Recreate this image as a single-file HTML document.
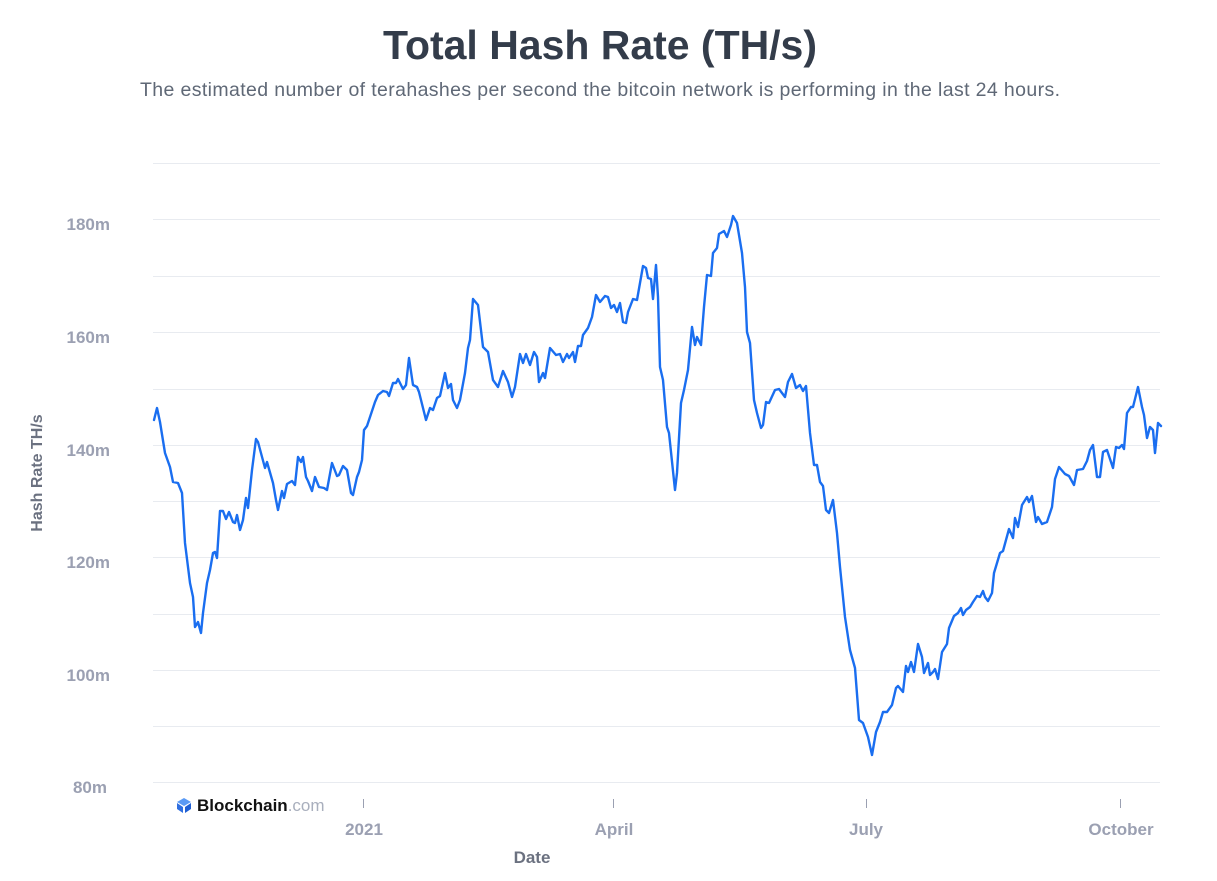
<!DOCTYPE html>
<html><head><meta charset="utf-8"><style>
body{margin:0;background:#fff;width:1217px;height:881px;overflow:hidden;font-family:"Liberation Sans",sans-serif}
</style></head><body>
<svg width="1217" height="881" xmlns="http://www.w3.org/2000/svg" style="position:absolute;left:0;top:0">
<text x="600" y="59" text-anchor="middle" font-size="41" font-weight="bold" fill="#333c4a" textLength="434" font-family="Liberation Sans, sans-serif">Total Hash Rate (TH/s)</text>
<text x="600" y="96" text-anchor="middle" font-size="19.5" fill="#5f6876" textLength="920" font-family="Liberation Sans, sans-serif">The estimated number of terahashes per second the bitcoin network is performing in the last 24 hours.</text>
<g stroke="#e8ebf0" stroke-width="1">
<line x1="153" x2="1160" y1="163.5" y2="163.5"/><line x1="153" x2="1160" y1="219.5" y2="219.5"/>
<line x1="153" x2="1160" y1="276.5" y2="276.5"/><line x1="153" x2="1160" y1="332.5" y2="332.5"/>
<line x1="153" x2="1160" y1="389.5" y2="389.5"/><line x1="153" x2="1160" y1="445.5" y2="445.5"/>
<line x1="153" x2="1160" y1="501.5" y2="501.5"/><line x1="153" x2="1160" y1="557.5" y2="557.5"/>
<line x1="153" x2="1160" y1="614.5" y2="614.5"/><line x1="153" x2="1160" y1="670.5" y2="670.5"/>
<line x1="153" x2="1160" y1="726.5" y2="726.5"/><line x1="153" x2="1160" y1="782.5" y2="782.5"/>
</g>
<g font-size="17" font-weight="bold" fill="#9ba0b2" text-anchor="end" font-family="Liberation Sans, sans-serif">
<text x="110" y="230">180m</text><text x="110" y="343">160m</text><text x="110" y="456">140m</text>
<text x="110" y="568">120m</text><text x="110" y="681">100m</text><text x="107" y="793">80m</text>
</g>
<text transform="translate(42,473) rotate(-90)" text-anchor="middle" font-size="16" font-weight="bold" fill="#6b7180" font-family="Liberation Sans, sans-serif">Hash Rate TH/s</text>
<g stroke="#9ba0b2" stroke-width="1"><line x1="363.5" x2="363.5" y1="799" y2="808"/><line x1="613.5" x2="613.5" y1="799" y2="808"/><line x1="866.5" x2="866.5" y1="799" y2="808"/><line x1="1120.5" x2="1120.5" y1="799" y2="808"/></g>
<g font-size="17" font-weight="bold" fill="#9ba0b2" text-anchor="middle" font-family="Liberation Sans, sans-serif">
<text x="364" y="835">2021</text><text x="614" y="835">April</text><text x="866" y="835">July</text><text x="1121" y="835">October</text>
</g>
<text x="532" y="863" text-anchor="middle" font-size="17" font-weight="bold" fill="#6b7180" font-family="Liberation Sans, sans-serif">Date</text>
<polygon points="184,798 191,802 184,806 177,802" fill="#5a9af5"/>
<polygon points="177,803 183,807 183,813 177,809" fill="#2f6fe0"/>
<polygon points="185,807 191,803 191,809 185,813" fill="#1f5fd4"/>
<text x="197" y="811" font-size="17" font-weight="bold" fill="#121212" font-family="Liberation Sans, sans-serif">Blockchain<tspan fill="#a9afbd" font-weight="normal">.com</tspan></text>
<polyline fill="none" stroke="#1a6ef0" stroke-width="2.4" stroke-linejoin="round" stroke-linecap="round" points="
154,420 157,408 160,422 165,453 170,467 173,482 178,483 182,493 185,543 190,583 193,597 195,627 198,622 201,633 203,613 207,583 210,570 213,553 215,552 217,558 220,511 223,511 226,519 229,512 233,522 235,523 237,515 240,530 243,520 246,498 248,508 252,470 256,439 258,442 265,468 267,462 273,483 276,500 278,510 282,491 284,498 287,484 292,481 295,485 298,457 301,462 303,457 306,477 308,481 312,491 315,477 319,487 324,488 327,490 332,463 337,476 339,475 343,466 347,470 351,493 353,495 357,477 359,472 362,460 364,430 367,426 370,417 375,402 378,395 383,391 387,392 389,396 393,383 396,383 398,379 403,389 406,385 409,358 413,385 417,387 419,392 426,420 430,408 433,410 437,398 440,396 445,373 448,388 451,384 453,400 457,408 460,400 465,373 468,348 470,340 473,299 478,305 483,347 488,352 493,380 498,387 503,371 508,382 512,397 515,387 520,354 523,363 526,354 530,365 534,352 537,357 539,382 543,373 545,378 550,348 556,355 560,354 563,362 567,354 569,358 573,352 575,362 578,346 581,346 583,335 588,328 592,317 596,295 600,302 605,296 608,297 611,308 614,305 617,312 620,303 623,322 626,323 628,312 633,299 637,300 640,283 643,266 646,268 648,278 651,279 653,299 656,265 658,297 660,367 663,380 667,427 669,433 675,490 677,473 681,403 684,390 688,370 692,327 695,345 697,337 701,345 704,307 707,275 711,276 713,253 717,248 719,234 724,231 727,237 731,225 733,216 737,223 742,253 745,287 747,332 750,343 754,400 757,413 761,428 763,425 766,402 769,403 775,390 779,389 785,397 788,382 792,374 796,388 800,385 803,391 806,386 810,433 814,465 817,465 820,482 823,486 826,510 829,513 833,500 837,533 840,567 845,617 850,650 855,668 859,720 863,723 868,737 872,755 876,732 880,722 883,712 887,712 892,705 896,688 898,686 903,692 906,666 908,672 911,662 914,672 918,644 922,657 924,673 928,663 930,675 933,672 935,669 938,679 942,652 947,644 949,628 954,616 958,613 961,608 963,615 966,610 970,607 973,602 977,596 980,597 983,591 985,597 988,601 992,593 994,573 1000,553 1003,551 1006,540 1009,529 1013,538 1015,518 1018,527 1022,505 1027,497 1029,502 1032,496 1036,522 1038,517 1042,524 1047,522 1052,507 1055,479 1059,467 1065,474 1069,476 1074,485 1077,470 1083,469 1087,461 1090,450 1093,445 1097,477 1100,477 1103,452 1107,450 1113,468 1116,447 1119,448 1122,445 1124,449 1127,413 1131,407 1133,407 1138,387 1142,407 1144,415 1147,438 1150,427 1153,430 1155,453 1158,423 1161,426"/>
</svg>
</body></html>
